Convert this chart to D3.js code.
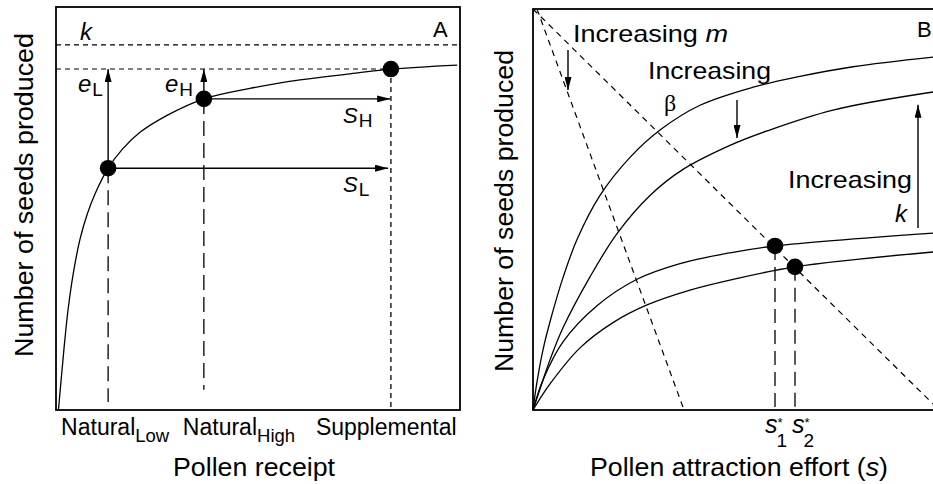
<!DOCTYPE html>
<html>
<head>
<meta charset="utf-8">
<script src="https://cdn.jsdelivr.net/npm/d3@7"></script>
<style>
  body { margin: 0; background: #fff; }
  svg { display: block; font-family: "Liberation Sans", Arial, Helvetica, sans-serif; }
</style>
</head>
<body>
<div id="graf"></div>
<script>
// ---- panel A data (x = pollen receipt, y = seeds, both 0-100) ----
const curveA = [[0.6, 0], [1.0, 4.5], [1.5, 10], [2.2, 17.5], [3.0, 25], [4.3, 34], [5.9, 42.2],
  [7.7, 48.5], [9.7, 53.7], [12.9, 60.0], [16.5, 64.8], [20.8, 68.9], [27.5, 73.1], [36.6, 77.2],
  [48, 79.8], [60.4, 81.9], [72.8, 83.4], [82.9, 84.6], [99.3, 85.6]]
const treatments = ["Natural", "Natural", "Supplemental"]
const treatmentSubs = ["Low", "High", ""]
const receiptLevels = [12.9, 36.6, 82.9]
const seedsAt = [60.0, 77.2, 84.6]
const kA = 90.6

// ---- panel B data (x = attraction effort, y = seeds) ----
const curveB1 = [[0, 0], [1, 7], [2.5, 15], [4.25, 22], [7.5, 33], [11, 42.5], [16.75, 53.5],
  [24.25, 63], [32, 70], [41.75, 76], [55, 80.5], [66.75, 83.2], [80, 85.6], [100, 88]]
const curveB2 = [[0, 0], [2.5, 7.5], [4.25, 12.5], [7.5, 20.5], [14.25, 33.2], [21, 44], [29.25, 53.5],
  [37.5, 60], [49.25, 66], [58.5, 69.6], [75, 74.8], [100, 79.3]]
const curveB3 = [[0, 0], [2.5, 7.5], [7.5, 17], [16, 26], [26, 32.6], [36.75, 36.5], [49.25, 39.2],
  [60.5, 40.9], [100, 44.1]]
const curveB4 = [[0, 0], [4.25, 6.5], [11.75, 15.5], [20, 21.8], [28.5, 26.2], [39.25, 29.9],
  [49.25, 32.4], [65.5, 35.7], [100, 39.4]]
const costLines = [[[1, 100], [37.5, 0.7]], [[0, 100], [100, 1.5]]]
const optEffort = [60.5, 65.5]
const optSeeds = [40.9, 35.7]
const optNames = ["1", "2"]
// arrows: [x, yFrom, yTo]
const arrowsB = [[8.75, 89.8, 79.8], [51, 77.3, 67.8], [96.25, 45.4, 76.1]]

const W = 933
const H = 484
const svg = d3.select("#graf").append("svg").attr("width", W).attr("height", H)

const defs = svg.append("defs")
defs.append("marker")
  .attr("id", "arr")
  .attr("viewBox", "0 0 13 7")
  .attr("refX", 13)
  .attr("refY", 3.5)
  .attr("markerWidth", 13)
  .attr("markerHeight", 7)
  .attr("markerUnits", "userSpaceOnUse")
  .attr("orient", "auto")
  .append("path")
  .attr("d", "M0,0L13,3.5L0,7Z")
  .attr("fill", "#000")

const xA = d3.scaleLinear().domain([0, 100]).range([56, 460])
const yA = d3.scaleLinear().domain([0, 100]).range([410, 7])
const xB = d3.scaleLinear().domain([0, 100]).range([533, 933])
const yB = d3.scaleLinear().domain([0, 100]).range([410, 9])

const lineA = d3.line().x((d) => xA(d[0])).y((d) => yA(d[1])).curve(d3.curveCatmullRom.alpha(0.5))
const lineB = d3.line().x((d) => xB(d[0])).y((d) => yB(d[1])).curve(d3.curveCatmullRom.alpha(0.5))

// ================= PANEL A =================
const gA = svg.append("g")

gA.append("rect")
  .attr("x", xA(0)).attr("y", yA(100))
  .attr("width", xA(100) - xA(0)).attr("height", yA(0) - yA(100))
  .attr("fill", "none").attr("stroke", "#000").attr("stroke-width", 1.8)

// k and e reference lines
gA.append("line")
  .attr("x1", xA(0)).attr("x2", xA(100)).attr("y1", yA(kA)).attr("y2", yA(kA))
  .attr("stroke", "#000").attr("stroke-width", 1.1).attr("stroke-dasharray", "5,4")
gA.append("line")
  .attr("x1", xA(0)).attr("x2", xA(receiptLevels[2])).attr("y1", yA(seedsAt[2])).attr("y2", yA(seedsAt[2]))
  .attr("stroke", "#000").attr("stroke-width", 1.1).attr("stroke-dasharray", "5,4")

// drop lines
const dropEnds = [2, 5, 0]
const dropDash = ["15,7", "15,7", "5,4"]
gA.selectAll(".drop")
  .data(receiptLevels)
  .enter()
  .append("line")
  .attr("x1", (d) => xA(d)).attr("x2", (d) => xA(d))
  .attr("y1", (d, i) => yA(seedsAt[i])).attr("y2", (d, i) => yA(dropEnds[i]))
  .attr("stroke", "#000").attr("stroke-width", 1.3)
  .attr("stroke-dasharray", (d, i) => dropDash[i])

gA.append("path")
  .attr("d", lineA(curveA))
  .attr("fill", "none").attr("stroke", "#000").attr("stroke-width", 1.3)

// arrows e and S
const arrowA = [
  [[receiptLevels[0], seedsAt[0]], [receiptLevels[0], seedsAt[2]]],
  [[receiptLevels[1], seedsAt[1]], [receiptLevels[1], seedsAt[2]]],
  [[receiptLevels[1], seedsAt[1]], [receiptLevels[2] - 0.2, seedsAt[1]]],
  [[receiptLevels[0], seedsAt[0]], [receiptLevels[2] - 0.7, seedsAt[0]]],
]
gA.selectAll(".arr")
  .data(arrowA)
  .enter()
  .append("line")
  .attr("x1", (d) => xA(d[0][0])).attr("y1", (d) => yA(d[0][1]))
  .attr("x2", (d) => xA(d[1][0])).attr("y2", (d) => yA(d[1][1]))
  .attr("stroke", "#000").attr("stroke-width", 1.4)
  .attr("marker-end", "url(#arr)")

gA.selectAll(".dot")
  .data(receiptLevels)
  .enter()
  .append("circle")
  .attr("cx", (d) => xA(d)).attr("cy", (d, i) => yA(seedsAt[i]))
  .attr("r", 8.3).attr("fill", "#000")

// tick labels
const tickDx = [-47, -21, -75]
treatments.forEach((t, i) => {
  const tx = gA.append("text")
    .attr("x", xA(receiptLevels[i]) + tickDx[i]).attr("y", 435)
    .attr("font-size", 23)
  tx.append("tspan").text(t)
  if (treatmentSubs[i]) tx.append("tspan").attr("dy", 7).attr("font-size", 18.5).text(treatmentSubs[i])
})

gA.append("text")
  .attr("x", 254).attr("y", 476).attr("text-anchor", "middle")
  .attr("font-size", 25).attr("textLength", 162).attr("lengthAdjust", "spacingAndGlyphs")
  .text("Pollen receipt")

gA.append("text")
  .attr("transform", "translate(33,195) rotate(-90)")
  .attr("text-anchor", "middle")
  .attr("font-size", 25).attr("textLength", 324).attr("lengthAdjust", "spacingAndGlyphs")
  .text("Number of seeds produced")

// annotations
gA.append("text").attr("x", 80).attr("y", 40).attr("font-size", 24).attr("font-style", "italic").text("k")
gA.append("text").attr("x", 433).attr("y", 37).attr("font-size", 22).text("A")

const symA = [
  { m: "e", s: "L", x: 78, y: 92, size: 24 },
  { m: "e", s: "H", x: 165, y: 92, size: 24 },
  { m: "S", s: "H", x: 343, y: 123, size: 22 },
  { m: "S", s: "L", x: 343, y: 192, size: 22 },
]
symA.forEach((d) => {
  const t = gA.append("text").attr("x", d.x).attr("y", d.y).attr("font-size", d.size)
  t.append("tspan").attr("font-style", "italic").text(d.m)
  t.append("tspan").attr("dx", 1).attr("dy", 4).attr("font-size", 19).text(d.s)
})

// ================= PANEL B =================
const gB = svg.append("g")

gB.append("rect")
  .attr("x", xB(0)).attr("y", yB(100))
  .attr("width", 410).attr("height", yB(0) - yB(100))
  .attr("fill", "none").attr("stroke", "#000").attr("stroke-width", 1.8)

gB.selectAll(".cost")
  .data(costLines)
  .enter()
  .append("path")
  .attr("d", (d) => d3.line().x((p) => xB(p[0])).y((p) => yB(p[1]))(d))
  .attr("fill", "none").attr("stroke", "#000").attr("stroke-width", 1.2)
  .attr("stroke-dasharray", "6,5")

gB.selectAll(".curve")
  .data([curveB1, curveB2, curveB3, curveB4])
  .enter()
  .append("path")
  .attr("d", (d) => lineB(d))
  .attr("fill", "none").attr("stroke", "#000").attr("stroke-width", 1.3)

gB.selectAll(".drop")
  .data(optEffort)
  .enter()
  .append("line")
  .attr("x1", (d) => xB(d)).attr("x2", (d) => xB(d))
  .attr("y1", (d, i) => yB(optSeeds[i])).attr("y2", yB(0))
  .attr("stroke", "#000").attr("stroke-width", 1.3).attr("stroke-dasharray", "14,7")

gB.selectAll(".dot")
  .data(optEffort)
  .enter()
  .append("circle")
  .attr("cx", (d) => xB(d)).attr("cy", (d, i) => yB(optSeeds[i]))
  .attr("r", 8.3).attr("fill", "#000")

gB.selectAll(".arr")
  .data(arrowsB)
  .enter()
  .append("line")
  .attr("x1", (d) => xB(d[0])).attr("x2", (d) => xB(d[0]))
  .attr("y1", (d) => yB(d[1])).attr("y2", (d) => yB(d[2]))
  .attr("stroke", "#000").attr("stroke-width", 1.4)
  .attr("marker-end", "url(#arr)")

// annotations
const incM = gB.append("text").attr("x", 573).attr("y", 42).attr("font-size", 24)
  .attr("textLength", 155).attr("lengthAdjust", "spacingAndGlyphs")
incM.append("tspan").text("Increasing ")
incM.append("tspan").attr("font-style", "italic").text("m")

gB.append("text").attr("x", 648).attr("y", 79).attr("font-size", 24)
  .attr("textLength", 123).attr("lengthAdjust", "spacingAndGlyphs").text("Increasing")
gB.append("text").attr("x", 664).attr("y", 111).attr("font-size", 24)
  .attr("font-family", "'Liberation Serif', 'DejaVu Serif', serif").text("β")
gB.append("text").attr("x", 788).attr("y", 188).attr("font-size", 24)
  .attr("textLength", 124).attr("lengthAdjust", "spacingAndGlyphs").text("Increasing")
gB.append("text").attr("x", 895).attr("y", 222).attr("font-size", 24).attr("font-style", "italic").text("k")
gB.append("text").attr("x", 917).attr("y", 37).attr("font-size", 22).text("B")

// s* tick labels: italic s, star above the subscript
const optDx = [-10, -3]
optEffort.forEach((d, i) => {
  const t = gB.append("text").attr("x", xB(d) + optDx[i]).attr("y", 433).attr("font-size", 25)
  t.append("tspan").attr("font-style", "italic").text("s")
  t.append("tspan").attr("dx", 0).attr("dy", -6).attr("font-size", 13).text("*")
  t.append("tspan").attr("dx", -6).attr("dy", 20).attr("font-size", 19).text(optNames[i])
})

const xt = gB.append("text").attr("x", 739).attr("y", 476).attr("text-anchor", "middle")
  .attr("font-size", 25).attr("textLength", 298).attr("lengthAdjust", "spacingAndGlyphs")
xt.append("tspan").text("Pollen attraction effort (")
xt.append("tspan").attr("font-style", "italic").text("s")
xt.append("tspan").text(")")

gB.append("text")
  .attr("transform", "translate(513,211) rotate(-90)")
  .attr("text-anchor", "middle")
  .attr("font-size", 25).attr("textLength", 322).attr("lengthAdjust", "spacingAndGlyphs")
  .text("Number of seeds produced")
</script>
</body>
</html>
